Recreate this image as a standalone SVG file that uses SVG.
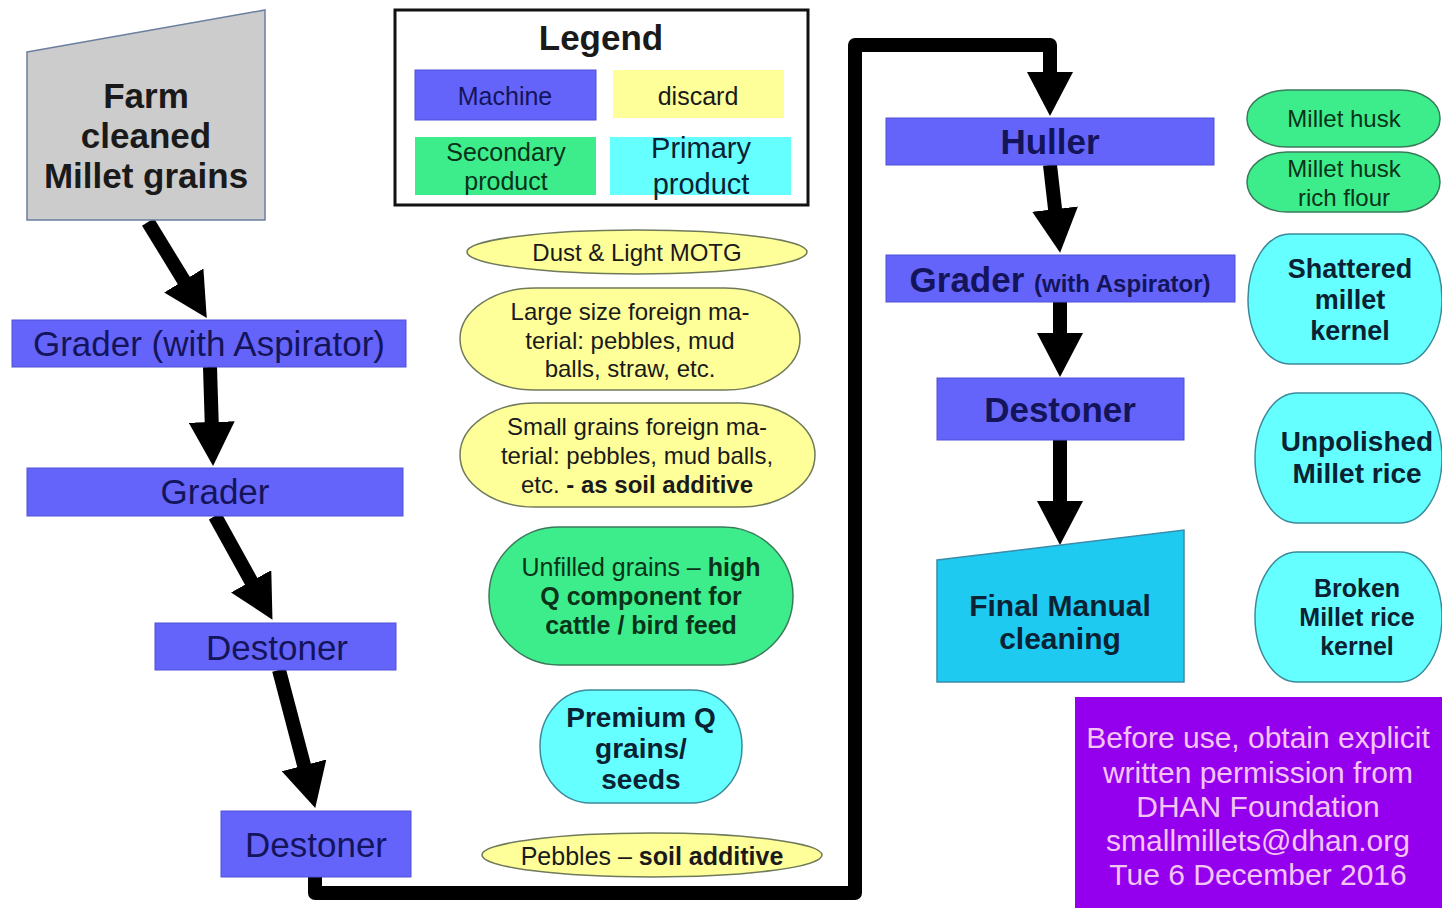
<svg xmlns="http://www.w3.org/2000/svg" width="1442" height="908" viewBox="0 0 1442 908">
<defs>
<style>
text{font-family:"Liberation Sans",Arial,sans-serif;text-anchor:middle}
.b{font-weight:bold}
.mach{fill:#6464fa;stroke:#5050d8;stroke-width:1}
.mt{fill:#14145a;font-size:35px}
.yel{fill:#ffff99;stroke:#6f7a5a;stroke-width:1.5}
.grn{fill:#3ded8c;stroke:#3a7a5a;stroke-width:1.5}
.cyn{fill:#66ffff;stroke:#3a8a9a;stroke-width:1.5}
.dt{fill:#1a1a1a}
.gt{fill:#0a3318}
.ct{fill:#0a2233}
.con{stroke:#000;fill:none;stroke-width:14}
</style>
<marker id="ah" markerUnits="userSpaceOnUse" markerWidth="46" markerHeight="46" refX="10" refY="23" orient="auto" viewBox="0 0 46 46">
<path d="M0,0 L44,23 L0,46 Z" fill="#000"/>
</marker>
</defs>
<rect width="1442" height="908" fill="#ffffff"/>

<g id="connectors">
<line class="con" x1="148" y1="222" x2="189" y2="289" marker-end="url(#ah)"/>
<line class="con" x1="210" y1="367" x2="212" y2="432" marker-end="url(#ah)"/>
<line class="con" x1="215" y1="516" x2="256" y2="590" marker-end="url(#ah)"/>
<line class="con" x1="279" y1="670" x2="306.6" y2="775" marker-end="url(#ah)"/>
<path class="con" stroke-width="12" stroke-linejoin="round" d="M315,877 L315,893 L855,893 L855,45 L1050,45 L1050,82" marker-end="url(#ah)"/>
<line class="con" x1="1050" y1="165" x2="1056.2" y2="219" marker-end="url(#ah)"/>
<line class="con" x1="1060" y1="302" x2="1060" y2="343" marker-end="url(#ah)"/>
<line class="con" x1="1060" y1="440" x2="1060" y2="511" marker-end="url(#ah)"/>
</g>

<g id="farm">
<polygon points="27,52 265,10 265,220 27,220" fill="#cccccc" stroke="#6a7f9f" stroke-width="1.5"/>
<text class="b dt" font-size="35" x="146" y="108">Farm</text>
<text class="b dt" font-size="35" x="146" y="148">cleaned</text>
<text class="b dt" font-size="35" x="146" y="188">Millet grains</text>
</g>

<g id="grader1">
<rect class="mach" x="12" y="320" width="394" height="47"/>
<text class="mt" x="209" y="356">Grader (with Aspirator)</text>
</g>
<g id="grader2">
<rect class="mach" x="27" y="468" width="376" height="48"/>
<text class="mt" x="215" y="504">Grader</text>
</g>
<g id="destoner1">
<rect class="mach" x="155" y="623" width="241" height="47"/>
<text class="mt" x="277" y="660">Destoner</text>
</g>
<g id="destoner2">
<rect class="mach" x="221" y="811" width="190" height="66"/>
<text class="mt" x="316" y="857">Destoner</text>
</g>

<g id="legend">
<rect x="395" y="10" width="413" height="195" fill="#ffffff" stroke="#111" stroke-width="3"/>
<text class="b dt" font-size="35" x="601" y="50">Legend</text>
<rect class="mach" x="415" y="70" width="181" height="50" stroke="none"/>
<text x="505" y="105" font-size="25" fill="#14145a">Machine</text>
<rect x="613" y="70" width="171" height="48" fill="#ffff99"/>
<text x="698" y="105" font-size="25" class="dt">discard</text>
<rect x="415" y="137" width="181" height="58" fill="#3ded8c"/>
<text x="506" y="161" font-size="25" class="gt">Secondary</text>
<text x="506" y="190" font-size="25" class="gt">product</text>
<rect x="610" y="137" width="181" height="58" fill="#66ffff"/>
<text x="701" y="158" font-size="29" class="ct">Primary</text>
<text x="701" y="194" font-size="29" class="ct">product</text>
</g>

<g id="dust">
<ellipse class="yel" cx="637" cy="252" rx="170" ry="22"/>
<text x="637" y="261" font-size="24" class="dt">Dust &amp; Light MOTG</text>
</g>
<g id="large">
<rect class="yel" x="460" y="288" width="340" height="102" rx="75" ry="51"/>
<text x="630" y="320" font-size="24" class="dt">Large size foreign ma-</text>
<text x="630" y="349" font-size="24" class="dt">terial: pebbles, mud</text>
<text x="630" y="377" font-size="24" class="dt">balls, straw, etc.</text>
</g>
<g id="small">
<rect class="yel" x="460" y="403" width="355" height="104" rx="75" ry="52"/>
<text x="637" y="435" font-size="24" class="dt">Small grains foreign ma-</text>
<text x="637" y="464" font-size="24" class="dt">terial: pebbles, mud balls,</text>
<text x="637" y="493" font-size="24" class="dt">etc. <tspan class="b">- as soil additive</tspan></text>
</g>
<g id="unfilled">
<rect class="grn" x="489" y="527" width="304" height="138" rx="70" ry="69"/>
<text x="641" y="576" font-size="25" class="gt">Unfilled grains – <tspan class="b">high</tspan></text>
<text x="641" y="605" font-size="25" class="b gt">Q component for</text>
<text x="641" y="634" font-size="25" class="b gt">cattle / bird feed</text>
</g>
<g id="premium">
<rect class="cyn" x="540" y="690" width="202" height="113" rx="50" ry="56"/>
<text x="641" y="727" font-size="28" class="b ct">Premium Q</text>
<text x="641" y="758" font-size="28" class="b ct">grains/</text>
<text x="641" y="789" font-size="28" class="b ct">seeds</text>
</g>
<g id="pebbles">
<ellipse class="yel" cx="652" cy="855" rx="170" ry="22"/>
<text x="652" y="865" font-size="25" class="dt">Pebbles – <tspan class="b">soil additive</tspan></text>
</g>

<g id="huller">
<rect class="mach" x="886" y="118" width="328" height="47"/>
<text class="mt b" x="1050" y="154">Huller</text>
</g>
<g id="grader3">
<rect class="mach" x="886" y="255" width="349" height="47"/>
<text class="mt b" x="1060" y="292">Grader <tspan font-size="24">(with Aspirator)</tspan></text>
</g>
<g id="destoner3">
<rect class="mach" x="937" y="378" width="247" height="62"/>
<text class="mt b" x="1060" y="422">Destoner</text>
</g>
<g id="final">
<polygon points="937,560 1184,530 1184,682 937,682" fill="#1ecaf0" stroke="#3a8aaa" stroke-width="1.5"/>
<text x="1060" y="616" font-size="30" class="b ct">Final Manual</text>
<text x="1060" y="649" font-size="30" class="b ct">cleaning</text>
</g>

<g id="husk">
<rect class="grn" x="1247" y="90" width="193" height="57" rx="40" ry="28"/>
<text x="1344" y="127" font-size="24" class="gt">Millet husk</text>
</g>
<g id="huskflour">
<rect class="grn" x="1247" y="152" width="193" height="60" rx="40" ry="30"/>
<text x="1344" y="177" font-size="24" class="gt">Millet husk</text>
<text x="1344" y="206" font-size="24" class="gt">rich flour</text>
</g>
<g id="shattered">
<rect class="cyn" x="1248" y="234" width="194" height="130" rx="42" ry="65"/>
<text x="1350" y="278" font-size="27" class="b ct">Shattered</text>
<text x="1350" y="309" font-size="27" class="b ct">millet</text>
<text x="1350" y="340" font-size="27" class="b ct">kernel</text>
</g>
<g id="unpolished">
<rect class="cyn" x="1255" y="393" width="187" height="130" rx="42" ry="65"/>
<text x="1357" y="451" font-size="28" class="b ct">Unpolished</text>
<text x="1357" y="483" font-size="28" class="b ct">Millet rice</text>
</g>
<g id="broken">
<rect class="cyn" x="1255" y="552" width="187" height="130" rx="42" ry="65"/>
<text x="1357" y="597" font-size="25" class="b ct">Broken</text>
<text x="1357" y="626" font-size="25" class="b ct">Millet rice</text>
<text x="1357" y="655" font-size="25" class="b ct">kernel</text>
</g>

<g id="notice">
<rect x="1075" y="697" width="367" height="211" fill="#9400ee"/>
<text x="1258" y="748" font-size="30" fill="#f4c4f4">Before use, obtain explicit</text>
<text x="1258" y="783" font-size="30" fill="#f4c4f4">written permission from</text>
<text x="1258" y="817" font-size="30" fill="#f4c4f4">DHAN Foundation</text>
<text x="1258" y="851" font-size="30" fill="#f4c4f4">smallmillets@dhan.org</text>
<text x="1258" y="885" font-size="30" fill="#f4c4f4">Tue 6 December 2016</text>
</g>
</svg>
